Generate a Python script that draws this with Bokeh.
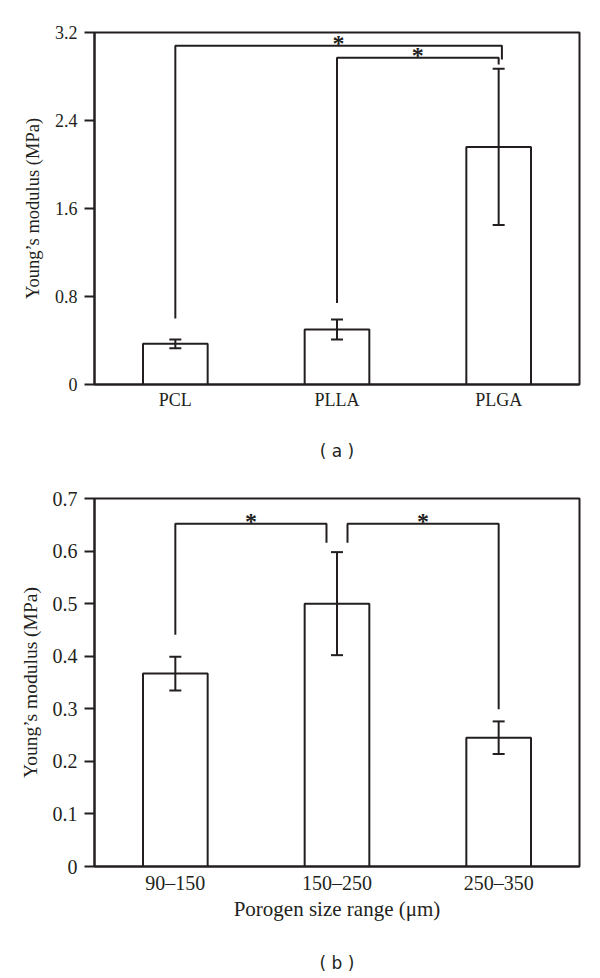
from bokeh.plotting import figure
from bokeh.models import ColumnDataSource, Whisker, FixedTicker, LinearAxis, Range1d, TeeHead
from bokeh.layouts import column
from bokeh.embed import file_html
from bokeh.resources import INLINE
from bokeh.core.properties import value

# ---------------- data: panel (a) ----------------
materials = ["PCL", "PLLA", "PLGA"]
modulus_a = [0.37, 0.50, 2.16]
sd_a = [0.04, 0.09, 0.71]
yticks_a = [0, 0.8, 1.6, 2.4, 3.2]
ylabels_a = ["0", "0.8", "1.6", "2.4", "3.2"]
# significance brackets: left group, right group, left-leg start, bar height, right-leg end
sig_left_a = [0, 1]
sig_right_a = [2, 2]
sig_lstart_a = [0.60, 0.74]
sig_top_a = [3.08, 2.97]
sig_rend_a = [2.955, 2.91]

# ---------------- data: panel (b) ----------------
pore_sizes = ["90\u2013150", "150\u2013250", "250\u2013350"]
modulus_b = [0.367, 0.500, 0.245]
sd_b = [0.032, 0.098, 0.031]
yticks_b = [0, 0.1, 0.2, 0.3, 0.4, 0.5, 0.6, 0.7]
ylabels_b = ["0", "0.1", "0.2", "0.3", "0.4", "0.5", "0.6", "0.7"]
sig_left_b = [0, 1]
sig_right_b = [1, 2]
sig_lstart_b = [0.441, 0.616]
sig_top_b = [0.652, 0.652]
sig_rend_b = [0.616, 0.299]

INK = "#231f20"
SERIF = "Liberation Serif"


def make_panel(cats, vals, sds, yticks, ylabels, ymax, sl, sr, sls, stop, sre,
               leg_shift, height, top_border, bottom_border, font_px, label_standoff,
               xlabel, panel_tag, tag_standoff, ylabel_standoff, star_offset,
               title_px, xlabel_px):
    p = figure(width=600, height=height, output_backend="svg", toolbar_location=None,
               x_range=Range1d(0, len(cats)), y_range=Range1d(0, ymax),
               min_border_left=94, min_border_right=21,
               min_border_top=top_border, min_border_bottom=bottom_border,
               background_fill_color="white", border_fill_color="white")
    p.xgrid.visible = False
    p.ygrid.visible = False
    p.outline_line_color = INK
    p.outline_line_width = 2
    p.outline_line_alpha = 1

    xs = [i + 0.5 for i in range(len(cats))]
    src = ColumnDataSource(dict(x=xs, top=vals,
                                upper=[v + s for v, s in zip(vals, sds)],
                                lower=[v - s for v, s in zip(vals, sds)]))
    p.vbar(x="x", top="top", width=0.4, source=src, fill_color="white",
           line_color=INK, line_width=2)
    w = Whisker(source=src, base="x", upper="upper", lower="lower",
                line_color=INK, line_width=2,
                upper_head=TeeHead(size=12, line_color=INK, line_width=2),
                lower_head=TeeHead(size=12, line_color=INK, line_width=2))
    w.level = "annotation"
    p.add_layout(w)

    # significance brackets
    bx, by, sx, sy = [], [], [], []
    for li, ri, a, t, e, sh in zip(sl, sr, sls, stop, sre, leg_shift):
        x0 = xs[li] + sh[0]
        x1 = xs[ri] + sh[1]
        bx.append([x0, x0, x1, x1])
        by.append([a, t, t, e])
        sx.append((x0 + x1) / 2)
        sy.append(t)
    p.multi_line(xs=bx, ys=by, line_color=INK, line_width=2)
    p.text(x=sx, y=sy, text=["*"] * len(sx), text_font=value(SERIF),
           text_font_size="24px", text_font_style="bold", text_align="center",
           text_baseline="middle", y_offset=star_offset, text_color=INK)

    # axes
    p.xaxis.ticker = FixedTicker(ticks=xs)
    p.xaxis.major_label_overrides = {x: c for x, c in zip(xs, cats)}
    p.xaxis.major_tick_in = 0
    p.xaxis.major_tick_out = 0
    p.xaxis.minor_tick_line_color = None
    p.xaxis.axis_line_color = INK
    p.xaxis.axis_line_width = 2
    p.xaxis.major_label_standoff = label_standoff
    p.xaxis.major_label_text_font = SERIF
    p.xaxis.major_label_text_font_size = f"{font_px}px"
    p.xaxis.major_label_text_color = INK
    if xlabel:
        p.xaxis.axis_label = xlabel
        p.xaxis.axis_label_text_font = SERIF
        p.xaxis.axis_label_text_font_style = "normal"
        p.xaxis.axis_label_text_font_size = f"{xlabel_px}px"
        p.xaxis.axis_label_text_color = INK
        p.xaxis.axis_label_standoff = 0

    p.yaxis.ticker = FixedTicker(ticks=yticks)
    p.yaxis.major_label_overrides = {t: l for t, l in zip(yticks, ylabels)}
    p.yaxis.major_tick_in = 0
    p.yaxis.major_tick_out = 10
    p.yaxis.major_tick_line_width = 2
    p.yaxis.major_tick_line_color = INK
    p.yaxis.minor_tick_line_color = None
    p.yaxis.axis_line_color = INK
    p.yaxis.axis_line_width = 2
    p.yaxis.major_label_standoff = 7
    p.yaxis.major_label_text_font = SERIF
    p.yaxis.major_label_text_font_size = f"{font_px}px"
    p.yaxis.major_label_text_color = INK
    p.yaxis.axis_label = "Young\u2019s modulus (MPa)"
    p.yaxis.axis_label_text_font = SERIF
    p.yaxis.axis_label_text_font_style = "normal"
    p.yaxis.axis_label_text_font_size = f"{title_px}px"
    p.yaxis.axis_label_text_color = INK
    p.yaxis.axis_label_standoff = ylabel_standoff

    # panel tag "( a )" / "( b )" as a bare extra axis label below
    tag = LinearAxis(ticker=FixedTicker(ticks=[]), axis_line_color=None,
                     major_tick_out=0, major_tick_in=0, minor_tick_out=0, minor_tick_in=0,
                     major_label_standoff=0, axis_label=panel_tag,
                     axis_label_text_font="DejaVu Sans", axis_label_text_font_size="17px",
                     axis_label_text_font_style="normal", axis_label_text_color=INK,
                     axis_label_standoff=tag_standoff)
    p.add_layout(tag, "below")
    return p


p1 = make_panel(materials, modulus_a, sd_a, yticks_a, ylabels_a, 3.2,
                sig_left_a, sig_right_a, sig_lstart_a, sig_top_a, sig_rend_a,
                leg_shift=[(0.0, 0.02), (0.0, 0.0)],
                height=485, top_border=32, bottom_border=101, font_px=18,
                label_standoff=5, xlabel=None, panel_tag="( a )", tag_standoff=28,
                ylabel_standoff=9, star_offset=-3, title_px=18.5, xlabel_px=20)

p2 = make_panel(pore_sizes, modulus_b, sd_b, yticks_b, ylabels_b, 0.7,
                sig_left_b, sig_right_b, sig_lstart_b, sig_top_b, sig_rend_b,
                leg_shift=[(0.0, -0.065), (0.065, 0.0)],
                height=493, top_border=13, bottom_border=112, font_px=20,
                label_standoff=5, xlabel="Porogen size range (\u03bcm)", panel_tag="( b )",
                tag_standoff=29, ylabel_standoff=9, star_offset=-3, title_px=19.5,
                xlabel_px=21)

layout = column(p1, p2, spacing=0)
open("out.html", "w").write(file_html(layout, INLINE))
